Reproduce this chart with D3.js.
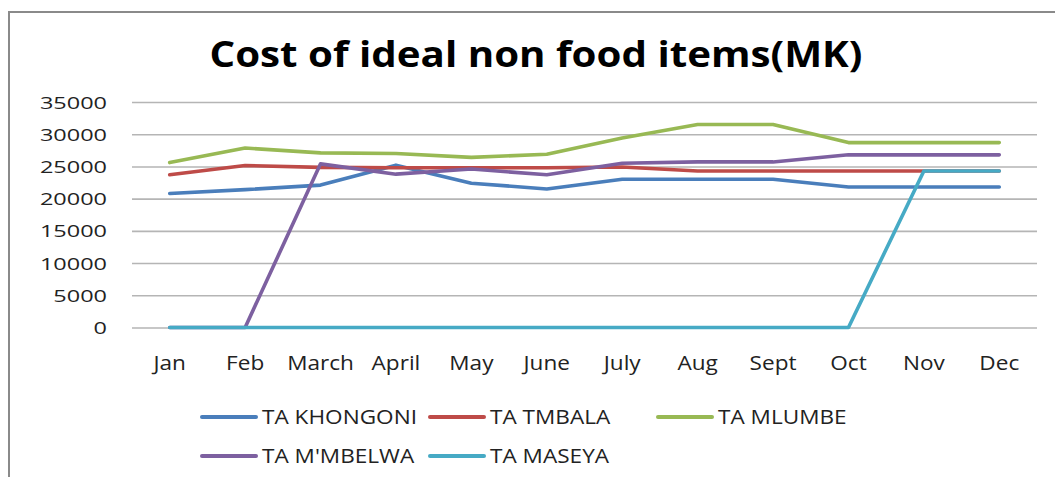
<!DOCTYPE html>
<html><head><meta charset="utf-8">
<script src="https://cdn.jsdelivr.net/npm/d3@7"></script>
<style>body{margin:0;background:#fff}svg{display:block}</style>
</head><body>
<svg id="c" width="1055" height="477"></svg>
<script>
const months = ["Jan","Feb","March","April","May","June","July","Aug","Sept","Oct","Nov","Dec"];
const yTicks = [0,5000,10000,15000,20000,25000,30000,35000];
const khongoni = [20800,21400,22100,25200,22400,21500,23000,23000,23000,21800,21800,21800];
const tmbala   = [23700,25150,24850,24800,24800,24800,24900,24300,24300,24300,24300,24300];
const mlumbe   = [25600,27850,27100,27000,26400,26900,29400,31500,31500,28700,28700,28700];
const mmbelwa  = [0,0,25400,23800,24600,23700,25500,25700,25700,26800,26800,26800];
const maseya   = [0,0,0,0,0,0,0,0,0,0,24300,24300];
const seriesNames = ["TA KHONGONI","TA TMBALA","TA MLUMBE","TA M'MBELWA","TA MASEYA"];
const seriesColors = ["#4A7EBB","#BE4B48","#98B954","#7D60A0","#46AAC5"];
const seriesData = [khongoni,tmbala,mlumbe,mmbelwa,maseya];

const svg = d3.select("#c");
const font = "'Open Sans', sans-serif";

// frame
svg.append("rect").attr("x",9).attr("y",12).attr("width",1100).attr("height",500)
  .attr("fill","#fff").attr("stroke","#8a8a8a").attr("stroke-width",2);

// title
svg.append("text").attr("x",536).attr("y",67).attr("text-anchor","middle")
  .attr("font-family",font).attr("font-weight","bold").attr("font-size",35)
  .attr("textLength",653).attr("lengthAdjust","spacingAndGlyphs")
  .attr("fill","#000").text("Cost of ideal non food items(MK)");

const x = d3.scaleBand().domain(months).range([132,1037]);
const y = d3.scaleLinear().domain([0,35000]).range([327.5,102]);

// gridlines + y labels
const ya = svg.append("g").attr("transform","translate(132,0)")
  .call(d3.axisLeft(y).tickValues(yTicks).tickSize(-905).tickFormat(d3.format("d")));
ya.select(".domain").remove();
ya.selectAll(".tick line").attr("stroke","#b5b5b5").attr("stroke-width",1.6);
ya.selectAll(".tick text").attr("x",0).attr("dy","0.36em")
  .attr("transform","translate(-25,0) scale(1.38,1)")
  .attr("font-family",font).attr("font-size",17).attr("fill","#222");

// x labels
const xa = svg.append("g").attr("transform","translate(0,327.5)")
  .call(d3.axisBottom(x).tickSize(0));
xa.select(".domain").remove();
xa.selectAll(".tick text").attr("y",0).attr("dy",0)
  .attr("transform","translate(0,42) scale(1.13,1)")
  .attr("font-family",font).attr("font-size",20).attr("fill","#222");

// lines
const line = d3.line().x((d,i)=>x(months[i])+x.bandwidth()/2).y(d=>y(d));
seriesData.forEach((s,k)=>{
  svg.append("path").datum(s).attr("d",line).attr("fill","none")
    .attr("stroke",seriesColors[k]).attr("stroke-width",3.6)
    .attr("stroke-linejoin","round").attr("stroke-linecap","round");
});

// legend
const legPos = [[202,417],[430,417],[658,417],[202,456],[430,456]];
seriesNames.forEach((n,k)=>{
  const [lx,ly] = legPos[k];
  const g = svg.append("g").attr("transform",`translate(${lx},${ly})`);
  g.append("line").attr("x1",0).attr("x2",54).attr("y1",0).attr("y2",0)
    .attr("stroke",seriesColors[k]).attr("stroke-width",4).attr("stroke-linecap","round");
  g.append("text").attr("transform","translate(60,7) scale(1.13,1)")
    .attr("font-family",font).attr("font-size",20).attr("fill","#222").text(n);
});
</script>
</body></html>
